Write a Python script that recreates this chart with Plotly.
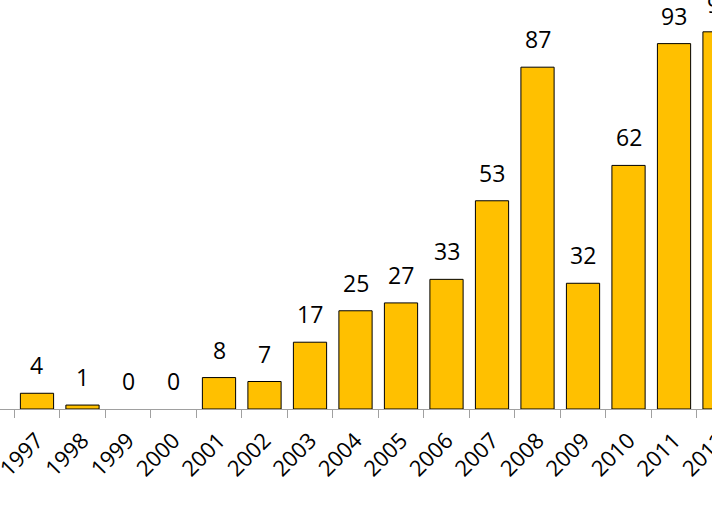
import plotly.graph_objects as go

years = [str(y) for y in range(1997, 2013)]
counts = [4, 1, 0, 0, 8, 7, 17, 25, 27, 33, 53, 87, 32, 62, 93, 96]

font_family = "Open Sans, Liberation Sans, sans-serif"

fig = go.Figure()
fig.add_trace(
    go.Bar(
        x=years,
        y=counts,
        marker=dict(
            color="#FFC000",
            # no outline on empty bars, so they don't leave a stub on the axis
            line=dict(color="black", width=[1 if n else 0 for n in counts]),
        ),
        cliponaxis=False,
    )
)

# value labels above the bars (category index used as x position)
for i, n in enumerate(counts):
    fig.add_annotation(
        x=i,
        y=n,
        xref="x",
        yref="y",
        text=str(n),
        showarrow=False,
        yanchor="bottom",
        yshift=10,
        font=dict(size=23, color="black", family=font_family),
    )

# figure is a bit wider than the window so the last bar is cut off
# at the right edge, like the original
fig.update_layout(
    width=740,
    height=520,
    margin=dict(l=0, r=0, t=0, b=111, autoexpand=False),
    plot_bgcolor="white",
    paper_bgcolor="white",
    bargap=0.27,
    showlegend=False,
    xaxis=dict(
        type="category",
        range=[-0.813, 15.45],
        automargin=False,
        tickson="boundaries",
        ticks="outside",
        ticklen=8,
        tickcolor="#A0A0A0",
        showline=True,
        linecolor="#A0A0A0",
        linewidth=1,
        tickangle=-45,
        ticklabelstandoff=9,
        tickfont=dict(size=22, color="black", family=font_family),
        showgrid=False,
    ),
    yaxis=dict(
        range=[0, 104.1],
        automargin=False,
        showticklabels=False,
        ticks="",
        showline=False,
        showgrid=False,
        zeroline=False,
    ),
)

# drop the default body margin so the figure sits at the page corner
fig.write_html(
    "out.html",
    config={"displayModeBar": False},
    post_script="document.body.style.margin='0';document.body.style.overflow='hidden';",
)
